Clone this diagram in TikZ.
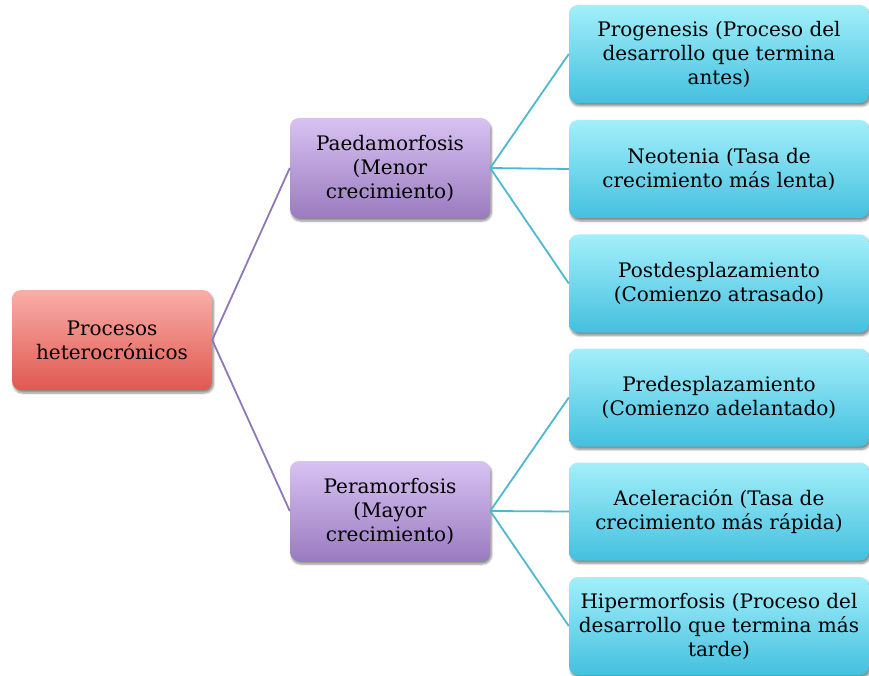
\documentclass[tikz,border=0pt]{standalone}
\usepackage{fontspec}
\setmainfont{DejaVu Serif}
\usetikzlibrary{shadows.blur}
\definecolor{redT}{HTML}{FAAEA9}
\definecolor{redB}{HTML}{E0584F}
\definecolor{purT}{HTML}{D8C2F2}
\definecolor{purB}{HTML}{9A7BC0}
\definecolor{cyaT}{HTML}{A3EFFA}
\definecolor{cyaB}{HTML}{44C0DF}
\definecolor{purL}{HTML}{8F78B8}
\definecolor{cyaL}{HTML}{4DB8CE}
\tikzset{
  box/.style={rounded corners=9pt, align=center, inner sep=0pt,
    font=\fontsize{20}{24}\selectfont, text=black,
    blur shadow={shadow xshift=1.5pt, shadow yshift=-3pt, shadow blur steps=6, shadow opacity=45}},
  rootbox/.style={box, minimum width=200pt, minimum height=100pt, top color=redT, bottom color=redB},
  midbox/.style={box, minimum width=200pt, minimum height=100pt, top color=purT, bottom color=purB},
  leafbox/.style={box, minimum width=300pt, minimum height=98pt, top color=cyaT, bottom color=cyaB},
  purline/.style={draw=purL, line width=1.8pt},
  cyaline/.style={draw=cyaL, line width=1.8pt}
}
\begin{document}
\begin{tikzpicture}[x=1pt,y=-1pt]
\useasboundingbox (0,0) rectangle (869,676);
\node[rootbox] (root) at (112,340) {Procesos\\heterocrónicos};
\node[midbox] (pae) at (390,168) {Paedamorfosis\\(Menor\\crecimiento)};
\node[midbox] (per) at (390,511) {Peramorfosis\\(Mayor\\crecimiento)};
\node[leafbox] (l1) at (719,54) {Progenesis (Proceso del\\desarrollo que termina\\antes)};
\node[leafbox] (l2) at (719,169) {Neotenia (Tasa de\\crecimiento más lenta)};
\node[leafbox] (l3) at (719,283.5) {Postdesplazamiento\\(Comienzo atrasado)};
\node[leafbox] (l4) at (719,397.5) {Predesplazamiento\\(Comienzo adelantado)};
\node[leafbox] (l5) at (719,511.5) {Aceleración (Tasa de\\crecimiento más rápida)};
\node[leafbox] (l6) at (719,626) {Hipermorfosis (Proceso del\\desarrollo que termina más\\tarde)};
\draw[purline] (root.east) -- (pae.west);
\draw[purline] (root.east) -- (per.west);
\foreach \n in {l1,l2,l3} \draw[cyaline] (pae.east) -- (\n.west);
\foreach \n in {l4,l5,l6} \draw[cyaline] (per.east) -- (\n.west);
\end{tikzpicture}
\end{document}
